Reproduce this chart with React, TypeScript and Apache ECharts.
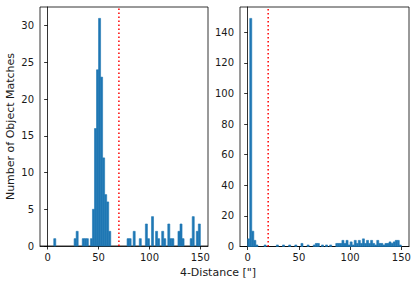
import React, { useEffect, useRef } from "react";
import * as echarts from "echarts";

// Histogram bins (bin start, count); bin width 2
const BIN = 2;
const leftBins: [number, number][] = [
  [6, 1], [26, 1], [28, 2], [34, 1], [36, 1], [38, 1], [42, 1], [44, 5], [46, 16], [48, 24],
  [50, 31], [52, 23], [54, 12], [56, 7], [58, 6], [60, 2], [78, 1], [80, 1], [84, 2], [90, 1],
  [96, 3], [98, 1], [102, 4], [106, 2], [108, 1], [112, 2], [114, 1], [118, 3], [120, 1], [122, 1],
  [128, 2], [130, 3], [132, 1], [140, 1], [142, 4], [146, 2], [148, 3],
];
const rightBins: [number, number][] = [
  [0, 5], [2, 149], [4, 10], [6, 4], [8, 1], [16, 1], [28, 1], [34, 1], [40, 1], [46, 1],
  [52, 2], [58, 1], [64, 1], [66, 2], [68, 2], [72, 1], [76, 1], [80, 1], [86, 2], [88, 2],
  [90, 2], [92, 4], [94, 2], [96, 4], [98, 1], [100, 3], [102, 1], [104, 4], [106, 2], [108, 4],
  [110, 2], [112, 5], [114, 2], [116, 4], [118, 2], [120, 4], [122, 2], [124, 1], [126, 4], [128, 2],
  [130, 2], [132, 1], [134, 2], [136, 2], [138, 3], [140, 2], [142, 3], [144, 4], [146, 4], [148, 1],
];
const xTicks = [0, 50, 100, 150];
const leftYTicks = [0, 5, 10, 15, 20, 25, 30];
const rightYTicks = [0, 20, 40, 60, 80, 100, 120, 140];
const leftThreshold = 70;
const rightThreshold = 20;
const X_MIN = -7.5;
const X_MAX = 157.5;
const leftYMax = 31 * 1.05;
const rightYMax = 149 * 1.05;
const yLabel = "Number of Object Matches";
const xLabel = '4-Distance ["]';

const FONT = "DejaVu Sans";
const BLUE = "#1f77b4";
const TEXT = "#1a1a1a";

function xAxis(idx: number) {
  return {
    type: "value",
    gridIndex: idx,
    min: X_MIN,
    max: X_MAX,
    axisLine: { show: true, lineStyle: { color: "#000", width: 0.8 } },
    axisTick: { show: true, length: 3.5, customValues: xTicks, lineStyle: { color: "#000", width: 0.8 } },
    axisLabel: { customValues: xTicks, margin: 6, color: TEXT, fontFamily: FONT, fontSize: 10 },
    splitLine: { show: false },
  };
}
function yAxis(idx: number, max: number, ticks: number[], name?: string) {
  return {
    type: "value",
    gridIndex: idx,
    min: 0,
    max,
    name,
    nameLocation: "middle",
    nameGap: 24,
    nameTextStyle: { color: TEXT, fontFamily: FONT, fontSize: 11 },
    axisLine: { show: true, lineStyle: { color: "#000", width: 0.8 } },
    axisTick: { show: true, length: 3.5, customValues: ticks, lineStyle: { color: "#000", width: 0.8 } },
    axisLabel: { customValues: ticks, margin: 6, color: TEXT, fontFamily: FONT, fontSize: 10 },
    splitLine: { show: false },
  };
}
function hist(idx: number, data: [number, number][]) {
  return {
    type: "custom",
    xAxisIndex: idx,
    yAxisIndex: idx,
    data,
    encode: { x: 0, y: 1 },
    renderItem: (_p: any, api: any) => {
      const x0 = api.value(0);
      const v = api.value(1);
      const p0 = api.coord([x0, v]);
      const p1 = api.coord([x0 + BIN, 0]);
      return {
        type: "rect",
        shape: { x: p0[0], y: p0[1], width: p1[0] - p0[0], height: p1[1] - p0[1] },
        style: { fill: BLUE, stroke: BLUE, lineWidth: 0.6 },
      };
    },
  };
}
function vline(idx: number, x: number, max: number) {
  return {
    type: "line",
    xAxisIndex: idx,
    yAxisIndex: idx,
    data: [[x, 0], [x, max]],
    symbol: "none",
    lineStyle: { color: "red", width: 1.5, type: [1.5, 2.5] },
    z: 5,
  };
}

export default function App() {
  const ref = useRef<HTMLDivElement>(null);
  useEffect(() => {
    if (!ref.current) return;
    const chart = echarts.init(ref.current, null, { renderer: "svg" });
    chart.setOption({
      animation: false,
      grid: [
        { left: 40, top: 7, width: 168, height: 239, show: true, borderColor: "#000", borderWidth: 0.8 },
        { left: 240, top: 7, width: 169, height: 239.5, show: true, borderColor: "#000", borderWidth: 0.8 },
      ],
      xAxis: [xAxis(0), xAxis(1)],
      yAxis: [yAxis(0, leftYMax, leftYTicks, yLabel), yAxis(1, rightYMax, rightYTicks)],
      series: [
        hist(0, leftBins),
        hist(1, rightBins),
        vline(0, leftThreshold, leftYMax),
        vline(1, rightThreshold, rightYMax),
      ],
      graphic: [
        {
          type: "text",
          x: 218,
          y: 272,
          style: { text: xLabel, fontFamily: FONT, fontSize: 11, fill: TEXT, textAlign: "center", textVerticalAlign: "middle" },
        },
      ],
    });
    return () => chart.dispose();
  }, []);
  return <div ref={ref} style={{ position: "absolute", left: 0, top: 0, width: 415, height: 282, background: "#fff" }} />;
}
